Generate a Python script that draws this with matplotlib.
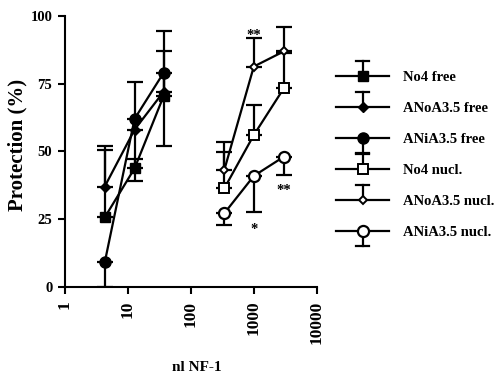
import matplotlib
matplotlib.use("Agg")
import matplotlib.pyplot as plt
from matplotlib.lines import Line2D
from matplotlib.legend_handler import HandlerBase

# ---- data ----
x_free = [4.3, 12.8, 37]
x_nucl = [340, 1000, 3000]

no4_free = [25.6, 43.7, 70.4]
no4_free_err_hi = [50.5, 47.0, 87.0]
anoa_free = [37, 58, 72]
anoa_free_err_hi = [52.0, 75.5, 94.5]
ania_free = [9, 62, 79]
ania_free_err_lo = [0.0, 39.0, 52.0]

no4_nucl = [36.3, 56.0, 73.3]
no4_nucl_err_hi = [49.6, 67.0, 86.3]
anoa_nucl = [43.1, 81.3, 86.9]
anoa_nucl_err_hi = [53.6, 91.8, 96.0]
ania_nucl = [27.1, 40.9, 48.0]
ania_nucl_err_lo = [22.8, 27.7, 41.3]

labels = ["No4 free", "ANoA3.5 free", "ANiA3.5 free",
          "No4 nucl.", "ANoA3.5 nucl.", "ANiA3.5 nucl."]
stars = ["**", "*", "**"]
star_x = [1000, 1000, 3000]
star_y = [92.8, 21.0, 35.5]

xticks = [1, 10, 100, 1000, 10000]
xticklabels = ["1", "10", "100", "1000", "10000"]
yticks = [0, 25, 50, 75, 100]

plt.rcParams['font.family'] = ['Liberation Serif', 'DejaVu Serif']
plt.rcParams['font.weight'] = 'bold'

fig = plt.figure(figsize=(4.95, 3.78), dpi=100)
ax = fig.add_axes([0.131, 0.2415, 0.509, 0.7165])

lw = 1.6
styles = [
    dict(marker='s', ms=7.5, mfc='black', mec='black'),
    dict(marker='D', ms=5.5, mfc='black', mec='black'),
    dict(marker='o', ms=8, mfc='black', mec='black'),
    dict(marker='s', ms=7, mfc='white', mec='black', mew=1.4),
    dict(marker='D', ms=4.5, mfc='white', mec='black', mew=1.4),
    dict(marker='o', ms=8, mfc='white', mec='black', mew=1.6),
]
series = [
    (x_free, no4_free, no4_free_err_hi, 'up'),
    (x_free, anoa_free, anoa_free_err_hi, 'up'),
    (x_free, ania_free, ania_free_err_lo, 'down'),
    (x_nucl, no4_nucl, no4_nucl_err_hi, 'up'),
    (x_nucl, anoa_nucl, anoa_nucl_err_hi, 'up'),
    (x_nucl, ania_nucl, ania_nucl_err_lo, 'down'),
]

for (xs, ys, ebound, d), st in zip(series, styles):
    if d == 'up':
        yerr = [[0] * len(ys), [e - y for e, y in zip(ebound, ys)]]
    else:
        yerr = [[y - e for e, y in zip(ebound, ys)], [0] * len(ys)]
    ax.errorbar(xs, ys, yerr=yerr, fmt='none', ecolor='black',
                elinewidth=lw, capsize=5.5, capthick=lw, zorder=2)
    ax.plot(xs, ys, color='black', lw=lw, zorder=3, clip_on=False, **st)

for s, sx, sy in zip(stars, star_x, star_y):
    ax.text(sx, sy, s, ha='center', va='center', fontsize=10.5, fontweight='bold')

ax.set_xscale('log')
ax.set_xlim(1, 10000)
ax.set_ylim(0, 100)
ax.set_xticks(xticks)
ax.set_xticklabels(xticklabels, rotation=90, fontsize=12.5, fontweight='bold')
ax.minorticks_off()
ax.set_yticks(yticks)
ax.set_yticklabels([str(v) for v in yticks], fontsize=10.5, fontweight='bold')
ax.tick_params(direction='out', length=5, width=1.5)
ax.tick_params(axis='x', pad=5)
ax.tick_params(axis='y', pad=4)
for sp in ['top', 'right']:
    ax.spines[sp].set_visible(False)
for sp in ['left', 'bottom']:
    ax.spines[sp].set_linewidth(1.5)
ax.set_ylabel("Protection (%)", fontsize=15, fontweight='bold')
ax.yaxis.set_label_coords(-0.15, 0.525)
ax.set_xlabel("nl NF-1", fontsize=11, fontweight='bold')
ax.xaxis.set_label_coords(0.524, -0.275)


class OneSidedHandler(HandlerBase):
    def __init__(self, style, direction):
        super().__init__()
        self.style = style
        self.direction = direction

    def create_artists(self, legend, orig_handle, xdescent, ydescent,
                       width, height, fontsize, trans):
        yc = height / 2 - ydescent
        xc = width / 2 - xdescent
        line = Line2D([-xdescent, width - xdescent], [yc, yc], color='black',
                      lw=lw, transform=trans)
        L = 11 if self.direction == 'up' else -11
        bar = Line2D([xc, xc], [yc, yc + L], color='black', lw=lw,
                     transform=trans)
        cap = Line2D([xc - 4.5, xc + 4.5], [yc + L, yc + L], color='black',
                     lw=lw, transform=trans)
        mk = Line2D([xc], [yc], color='black', lw=0, transform=trans,
                    **self.style)
        return [line, bar, cap, mk]


handles = []
hmap = {}
for st, (_, _, _, d) in zip(styles, series):
    h = Line2D([], [], color='black')
    handles.append(h)
    hmap[h] = OneSidedHandler(st, d)

leg = fig.legend(handles, labels, handler_map=hmap, loc='upper left',
                 bbox_to_anchor=(0.679, 0.812), frameon=False,
                 fontsize=10.5, handlelength=3.63, handletextpad=0.96,
                 labelspacing=1.22, borderpad=0, borderaxespad=0)
for t in leg.get_texts():
    t.set_fontweight('bold')

fig.savefig("out.png", dpi=100)
